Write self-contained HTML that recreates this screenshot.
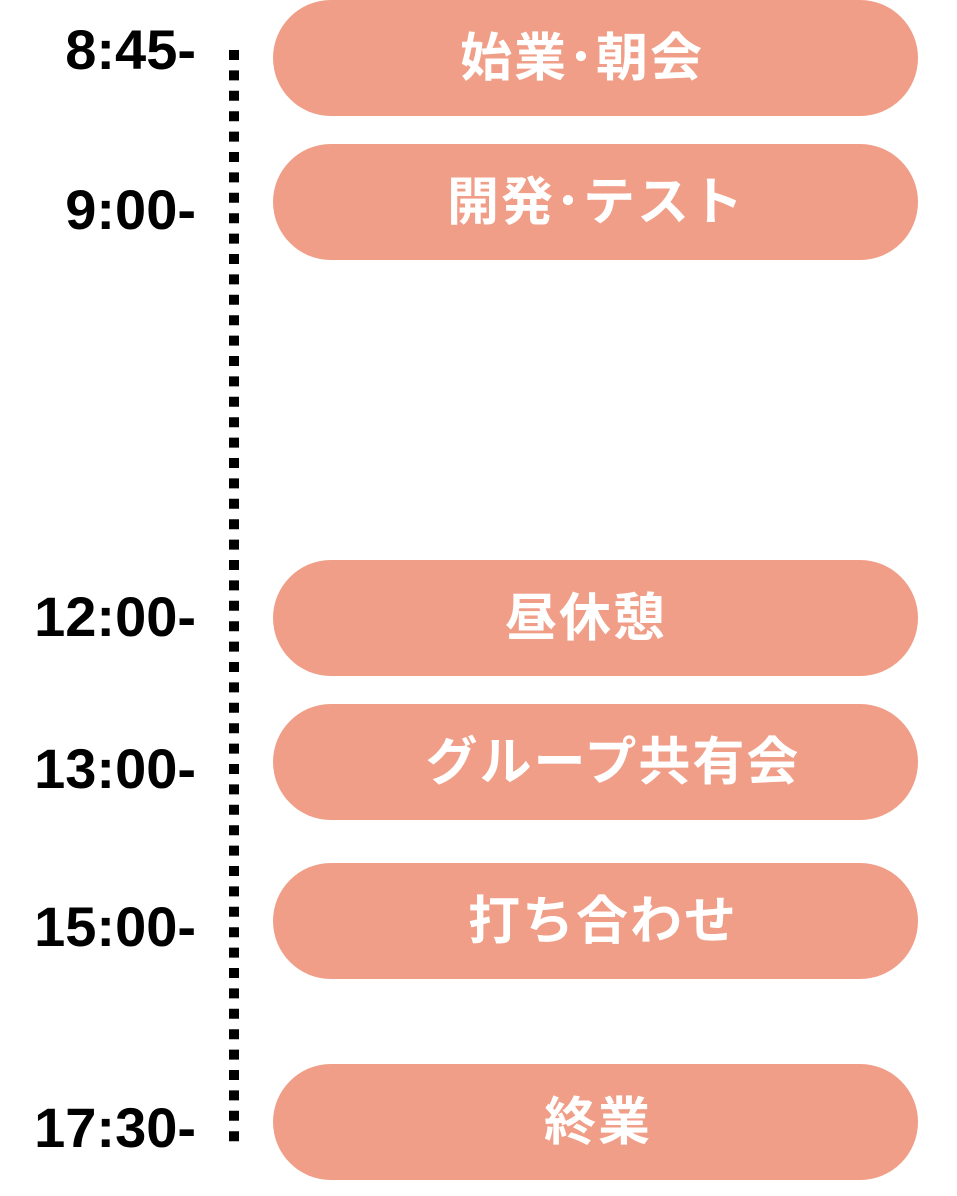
<!DOCTYPE html>
<html><head><meta charset="utf-8"><style>
html,body{margin:0;padding:0;background:#fff;}
body{width:957px;height:1196px;position:relative;overflow:hidden;}
.pill{position:absolute;left:273px;width:645px;height:116px;border-radius:58px;background:#F09E87;}
.pt{position:absolute;transform:translate(-50%,-50%);color:#fff;font-family:"Liberation Sans","Noto Sans CJK JP",sans-serif;font-weight:700;font-size:52px;white-space:nowrap;line-height:1;letter-spacing:2px;}
.tm{position:absolute;right:761px;transform:translateY(-50%);font-family:"Liberation Sans",sans-serif;font-weight:700;font-size:56px;line-height:1;color:#000;white-space:nowrap;}
</style></head><body>
<svg style="position:absolute;left:0;top:0" width="957" height="1196">
<line x1="234" y1="50" x2="234" y2="1147" stroke="#000" stroke-width="10" stroke-dasharray="10 10.4"/>
</svg>
<div class="pill" style="top:0"></div>
<div class="pill" style="top:144px"></div>
<div class="pill" style="top:560px"></div>
<div class="pill" style="top:704px"></div>
<div class="pill" style="top:863px"></div>
<div class="pill" style="top:1064px"></div>
<span class="pt" style="left:582px;top:59px">始業･朝会</span>
<span class="pt" style="left:596px;top:203px">開発･テスト</span>
<span class="pt" style="left:586px;top:619px">昼休憩</span>
<span class="pt" style="left:613px;top:763px">グループ共有会</span>
<span class="pt" style="left:603px;top:922px">打ち合わせ</span>
<span class="pt" style="left:598px;top:1123px">終業</span>
<span class="tm" style="top:50px">8:45-</span>
<span class="tm" style="top:210px">9:00-</span>
<span class="tm" style="top:617px">12:00-</span>
<span class="tm" style="top:769px">13:00-</span>
<span class="tm" style="top:927px">15:00-</span>
<span class="tm" style="top:1128px">17:30-</span>
</body></html>
